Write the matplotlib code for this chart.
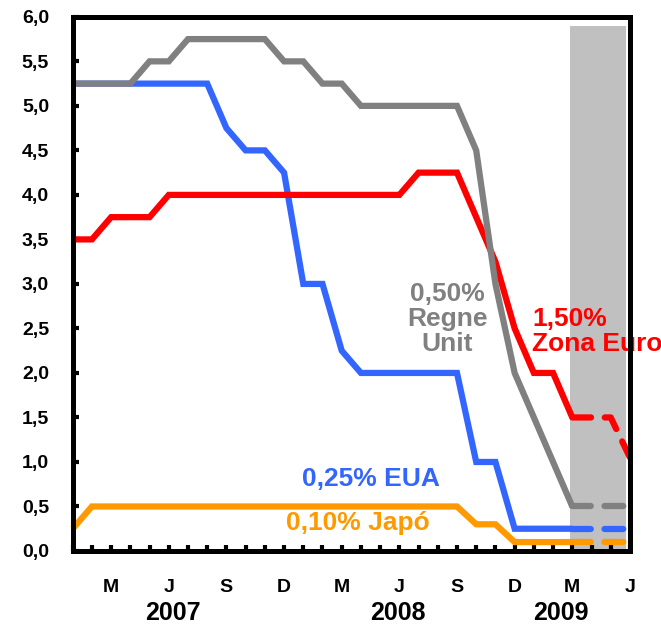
import matplotlib
matplotlib.use("Agg")
import matplotlib.pyplot as plt
import numpy as np

plt.rcParams['font.family'] = ['Liberation Sans', 'DejaVu Sans']
plt.rcParams['font.weight'] = 'bold'

# Monthly, Jan 2007 (index 0) .. Jun 2009 (index 29)
uk = [5.25, 5.25, 5.25, 5.25, 5.5, 5.5, 5.75, 5.75, 5.75, 5.75, 5.75, 5.5,
      5.5, 5.25, 5.25, 5.0, 5.0, 5.0, 5.0, 5.0, 5.0, 4.5, 3.0, 2.0,
      1.5, 1.0, 0.5, 0.5, 0.5, 0.5]
us = [5.25, 5.25, 5.25, 5.25, 5.25, 5.25, 5.25, 5.25, 4.75, 4.5, 4.5, 4.25,
      3.0, 3.0, 2.25, 2.0, 2.0, 2.0, 2.0, 2.0, 2.0, 1.0, 1.0, 0.25,
      0.25, 0.25, 0.25, 0.25, 0.25, 0.25]
euro = [3.5, 3.5, 3.75, 3.75, 3.75, 4.0, 4.0, 4.0, 4.0, 4.0, 4.0, 4.0,
        4.0, 4.0, 4.0, 4.0, 4.0, 4.0, 4.25, 4.25, 4.25, 3.75, 3.25, 2.5,
        2.0, 2.0, 1.5, 1.5, 1.5, 1.05]
japan = [0.25, 0.5, 0.5, 0.5, 0.5, 0.5, 0.5, 0.5, 0.5, 0.5, 0.5, 0.5,
         0.5, 0.5, 0.5, 0.5, 0.5, 0.5, 0.5, 0.5, 0.5, 0.3, 0.3, 0.1,
         0.1, 0.1, 0.1, 0.1, 0.1, 0.1]
split = 26  # last actual observation (Mar 2009); dashed afterwards

month_ticks = [2, 5, 8, 11, 14, 17, 20, 23, 26, 29]
month_labels = ['M', 'J', 'S', 'D', 'M', 'J', 'S', 'D', 'M', 'J']
years = ['2007', '2008', '2009']
year_pos = [5.2, 16.9, 25.4]
y_ticks = [0.0, 0.5, 1.0, 1.5, 2.0, 2.5, 3.0, 3.5, 4.0, 4.5, 5.0, 5.5, 6.0]

C_UK = '#808080'
C_US = '#3366FF'
C_EU = '#FF0000'
C_JP = '#FF9900'

fig = plt.figure(figsize=(6.61, 6.24), dpi=100)
ax = fig.add_axes([0.110, 0.117, 0.843, 0.856])

ax.axvspan(25.9, 28.8, ymin=0, ymax=5.9 / 6.0, color='#C0C0C0', lw=0, zorder=0)

x = np.arange(len(uk))
lw = 4.5
for z, (s, c) in enumerate([(japan, C_JP), (us, C_US), (euro, C_EU), (uk, C_UK)]):
    ax.plot(x[:split + 1], s[:split + 1], color=c, lw=lw, solid_joinstyle='miter',
            solid_capstyle='butt', zorder=3 + z * 0.1, clip_on=False)
    ax.plot(x[split:], s[split:], color=c, lw=lw, dashes=(3, 2.2),
            dash_capstyle='round', zorder=3 + z * 0.1, clip_on=False)

ax.set_xlim(0, 29)
ax.set_ylim(0, 6)

ax.set_yticks(y_ticks)
ax.set_yticklabels([f"{v:.1f}".replace('.', ',') for v in y_ticks])
ax.set_xticks(x)
lab = [''] * len(x)
for p, l in zip(month_ticks, month_labels):
    lab[p] = l
ax.set_xticklabels(lab)

ax.tick_params(axis='y', direction='in', length=4, width=3, labelsize=14, pad=17)
ax.tick_params(axis='x', direction='in', length=4, width=3, labelsize=14, pad=20)
for t in ax.get_xticklabels() + ax.get_yticklabels():
    t.set_fontweight('bold')

for sp in ax.spines.values():
    sp.set_linewidth(3.6)
    sp.set_zorder(5)

for yr, p in zip(years, year_pos):
    ax.text(p, -0.70, yr, ha='center', va='center', fontsize=18,
            fontweight='bold', transform=ax.transData)

fs = 19
ax.text(19.5, 2.61, "0,50%\nRegne\nUnit", color=C_UK, ha='center', va='center',
        fontsize=fs, fontweight='bold', linespacing=1.05)
ax.text(23.9, 2.47, "1,50%\nZona Euro", color=C_EU, ha='left', va='center',
        fontsize=fs, fontweight='bold', linespacing=1.05, clip_on=False)
ax.text(15.5, 0.81, "0,25% EUA", color=C_US, ha='center', va='center',
        fontsize=fs, fontweight='bold')
ax.text(14.85, 0.31, "0,10% Japó", color=C_JP, ha='center', va='center',
        fontsize=fs, fontweight='bold')

fig.savefig('out.png', dpi=100)
